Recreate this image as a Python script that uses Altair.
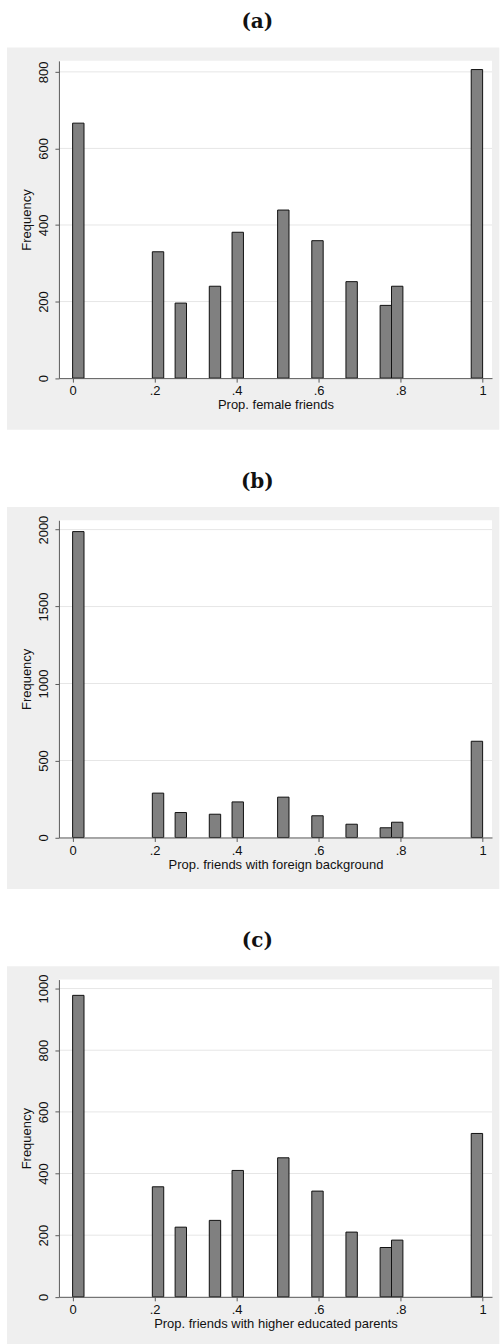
import math
import altair as alt
import pandas as pd

# ---- data ----
prop_values = [0, 1/5, 1/4, 1/3, 2/5, 1/2, 3/5, 2/3, 3/4, 4/5, 1]
female_counts = [666, 330, 196, 240, 381, 439, 359, 252, 190, 240, 806]
foreign_counts = [1987, 288, 162, 151, 231, 262, 141, 86, 63, 99, 625]
educ_counts = [978, 357, 226, 248, 410, 451, 343, 210, 160, 184, 530]

n_bins = 36
panel_titles = ["(a)", "(b)", "(c)"]
x_titles = [
    "Prop. female friends",
    "Prop. friends with foreign background",
    "Prop. friends with higher educated parents",
]
y_ticks = [[0, 200, 400, 600, 800], [0, 500, 1000, 1500, 2000], [0, 200, 400, 600, 800, 1000]]
y_tops = [828.7, 2061, 1029.2]
x_ticks = [0, 0.2, 0.4, 0.6, 0.8, 1]
x_domain = [-0.0334, 1.0229]
all_counts = [female_counts, foreign_counts, educ_counts]

W = 433.7
H = 317.7
SANS = "Liberation Sans"


def one():
    return alt.Data(values=[{"k": 0}])


def panel(i):
    counts = all_counts[i]
    rows = []
    for v, c in zip(prop_values, counts):
        k = min(n_bins - 1, math.floor(v * n_bins + 1e-9))
        rows.append({"lo": k / n_bins, "hi": (k + 1) / n_bins, "count": c})
    df = pd.DataFrame(rows)

    xs = alt.Scale(domain=x_domain, nice=False, zero=False, padding=0)
    ys = alt.Scale(domain=[0, y_tops[i]], nice=False, zero=True)

    y_axis = alt.Axis(
        values=y_ticks[i],
        format="d",
        title="Frequency",
        grid=False,
        tickSize=4,
        tickColor="#5a5a5a",
        domainColor="#5a5a5a",
        labelFont=SANS,
        labelFontSize=13,
        labelColor="#111111",
        labelAngle=270,
        labelAlign="center",
        labelBaseline="alphabetic",
        labelPadding=7.3,
        labelFlush=False,
        titleFont=SANS,
        titleFontSize=13,
        titleFontWeight="normal",
        titleColor="#111111",
        titleAngle=270,
        titleAlign="center",
        titleBaseline="alphabetic",
        titleX=-28.2,
        titleY=H / 2,
        zindex=1,
    )
    x_axis = alt.Axis(
        values=x_ticks,
        labelExpr="replace(format(datum.value, '~g'), '0.', '.')",
        title=x_titles[i],
        grid=False,
        tickSize=4,
        tickColor="#5a5a5a",
        domainColor="#5a5a5a",
        labelFont=SANS,
        labelFontSize=13,
        labelColor="#111111",
        labelBaseline="alphabetic",
        labelPadding=12.6,
        labelFlush=False,
        titleFont=SANS,
        titleFontSize=13,
        titleFontWeight="normal",
        titleColor="#111111",
        titleBaseline="alphabetic",
        titleY=30.6,
        zindex=1,
    )

    layers = []
    if i == 0:
        # tiny white anchor at the page's top-left corner so the layout starts there
        layers.append(
            alt.Chart(one()).mark_rect(color="white").encode(
                x=alt.value(-59), x2=alt.value(-58), y=alt.value(-60), y2=alt.value(-59)
            )
        )
    bg = alt.Chart(one()).mark_rect(color="#efefef").encode(
        x=alt.value(-52), x2=alt.value(W + 7.3), y=alt.value(-13.3), y2=alt.value(H + 51.6)
    )
    plotbg = alt.Chart(one()).mark_rect(color="white").encode(
        x=alt.value(0), x2=alt.value(W), y=alt.value(0), y2=alt.value(H)
    )
    grid_df = pd.DataFrame({"t": [t for t in y_ticks[i] if t != 0]})
    grid = alt.Chart(grid_df).mark_rule(color="#e6e6e6", strokeWidth=1).encode(
        y=alt.Y("t:Q", scale=ys, axis=y_axis), x=alt.value(0), x2=alt.value(W)
    )
    bars = alt.Chart(df).mark_rect(color="#808080", stroke="#111111", strokeWidth=1).encode(
        x=alt.X("lo:Q", scale=xs, axis=x_axis),
        x2="hi:Q",
        y=alt.Y("count:Q", scale=ys, axis=y_axis),
        y2=alt.datum(0),
    )
    title = alt.Chart(one()).mark_text(
        font="DejaVu Serif", fontWeight="bold", fontSize=20, align="center", baseline="alphabetic", color="#111111"
    ).encode(x=alt.value(198.7), y=alt.value(-32.7), text=alt.value(panel_titles[i]))

    layers += [bg, plotbg, grid, bars, title]
    return alt.layer(*layers).properties(width=W, height=H)


chart = (
    alt.vconcat(panel(0), panel(1), panel(2), spacing=142, bounds="flush")
    .properties(padding=0, background="white")
    .configure_view(stroke=None)
)

chart.save("out.html", embed_options={"renderer": "svg", "actions": False})
